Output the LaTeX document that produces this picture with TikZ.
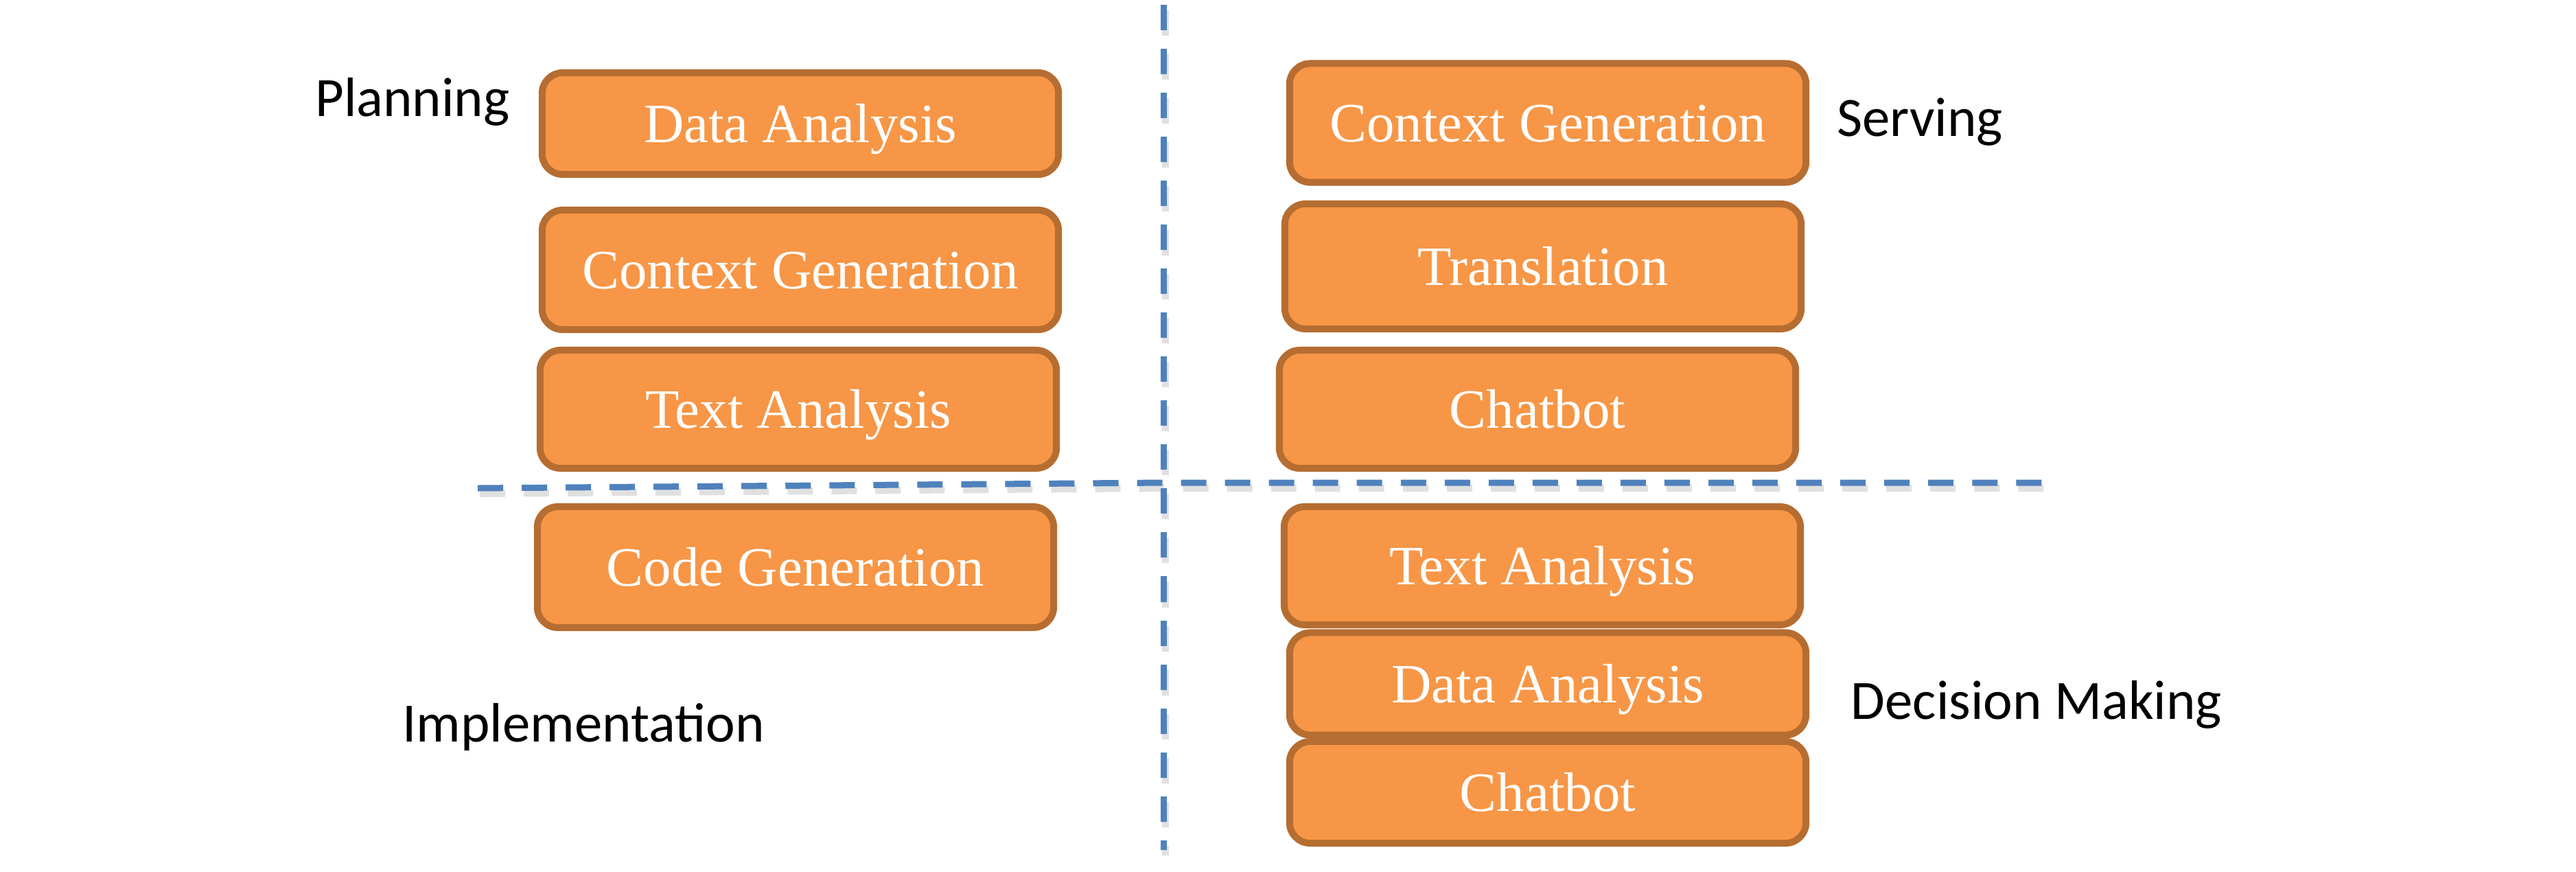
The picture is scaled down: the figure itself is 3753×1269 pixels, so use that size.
\documentclass[tikz,border=0pt]{standalone}
\usepackage{fontspec}
\setmainfont{Liberation Serif}
\newfontfamily\labelfont{Carlito}
\usepackage{xcolor}
\definecolor{boxfill}{HTML}{F79646}
\definecolor{boxline}{HTML}{B66D31}
\definecolor{divider}{HTML}{4F81BD}

\begin{document}
\begin{tikzpicture}[x=0.01cm, y=-0.01cm,
  task/.style={draw=boxline, fill=boxfill, line width=0.1cm, rounded corners=0.3cm, minimum width=7.52cm, inner sep=0pt, text height=0.54cm, text depth=0pt, text=white, font=\fontsize{23}{28}\selectfont},
  phase/.style={anchor=base, inner sep=0pt, font=\labelfont\fontsize{23}{28}\selectfont},
  divline/.style={draw=divider, line width=0.09cm, dash pattern=on 0.37cm off 0.27cm},
  divshadow/.style={draw=black!12, line width=0.1cm, dash pattern=on 0.37cm off 0.27cm}]
\useasboundingbox (0,0) rectangle (3753,1269);

% quadrant dividers
\draw[divshadow] (1698,15) -- (1698,1246);
\draw[divshadow] (699,719) -- (1698,711) -- (2981,711);
\draw[divline] (1695,7) -- (1695,1238);
\draw[divline] (696,711) -- (1695,703) -- (2978,703);

% left column
\foreach \n/\x/\y/\h/\t in {planA/1166/180/1.48/Data Analysis, planB/1166/393/1.74/Context Generation, planC/1163/596/1.72/Text Analysis, implA/1159/826/1.76/Code Generation}
  \node[task, minimum height=\h cm] (\n) at (\x,\y) {\t};

% right column
\foreach \n/\x/\y/\h/\t in {servA/2255/179/1.73/Context Generation, servB/2248/388/1.82/Translation, servC/2240/596/1.72/Chatbot, decA/2247/824/1.72/Text Analysis, decB/2255/996/1.49/Data Analysis, decC/2255/1154/1.48/Chatbot}
  \node[task, minimum height=\h cm] (\n) at (\x,\y) {\t};

\node[phase] (planning) at (601,169) {Planning};
\node[phase] (serving) at (2797,198) {Serving};
\node[phase] (implementation) at (850,1080) {Implementation};
\node[phase] (decision) at (2967,1047) {Decision Making};
\end{tikzpicture}
\end{document}
